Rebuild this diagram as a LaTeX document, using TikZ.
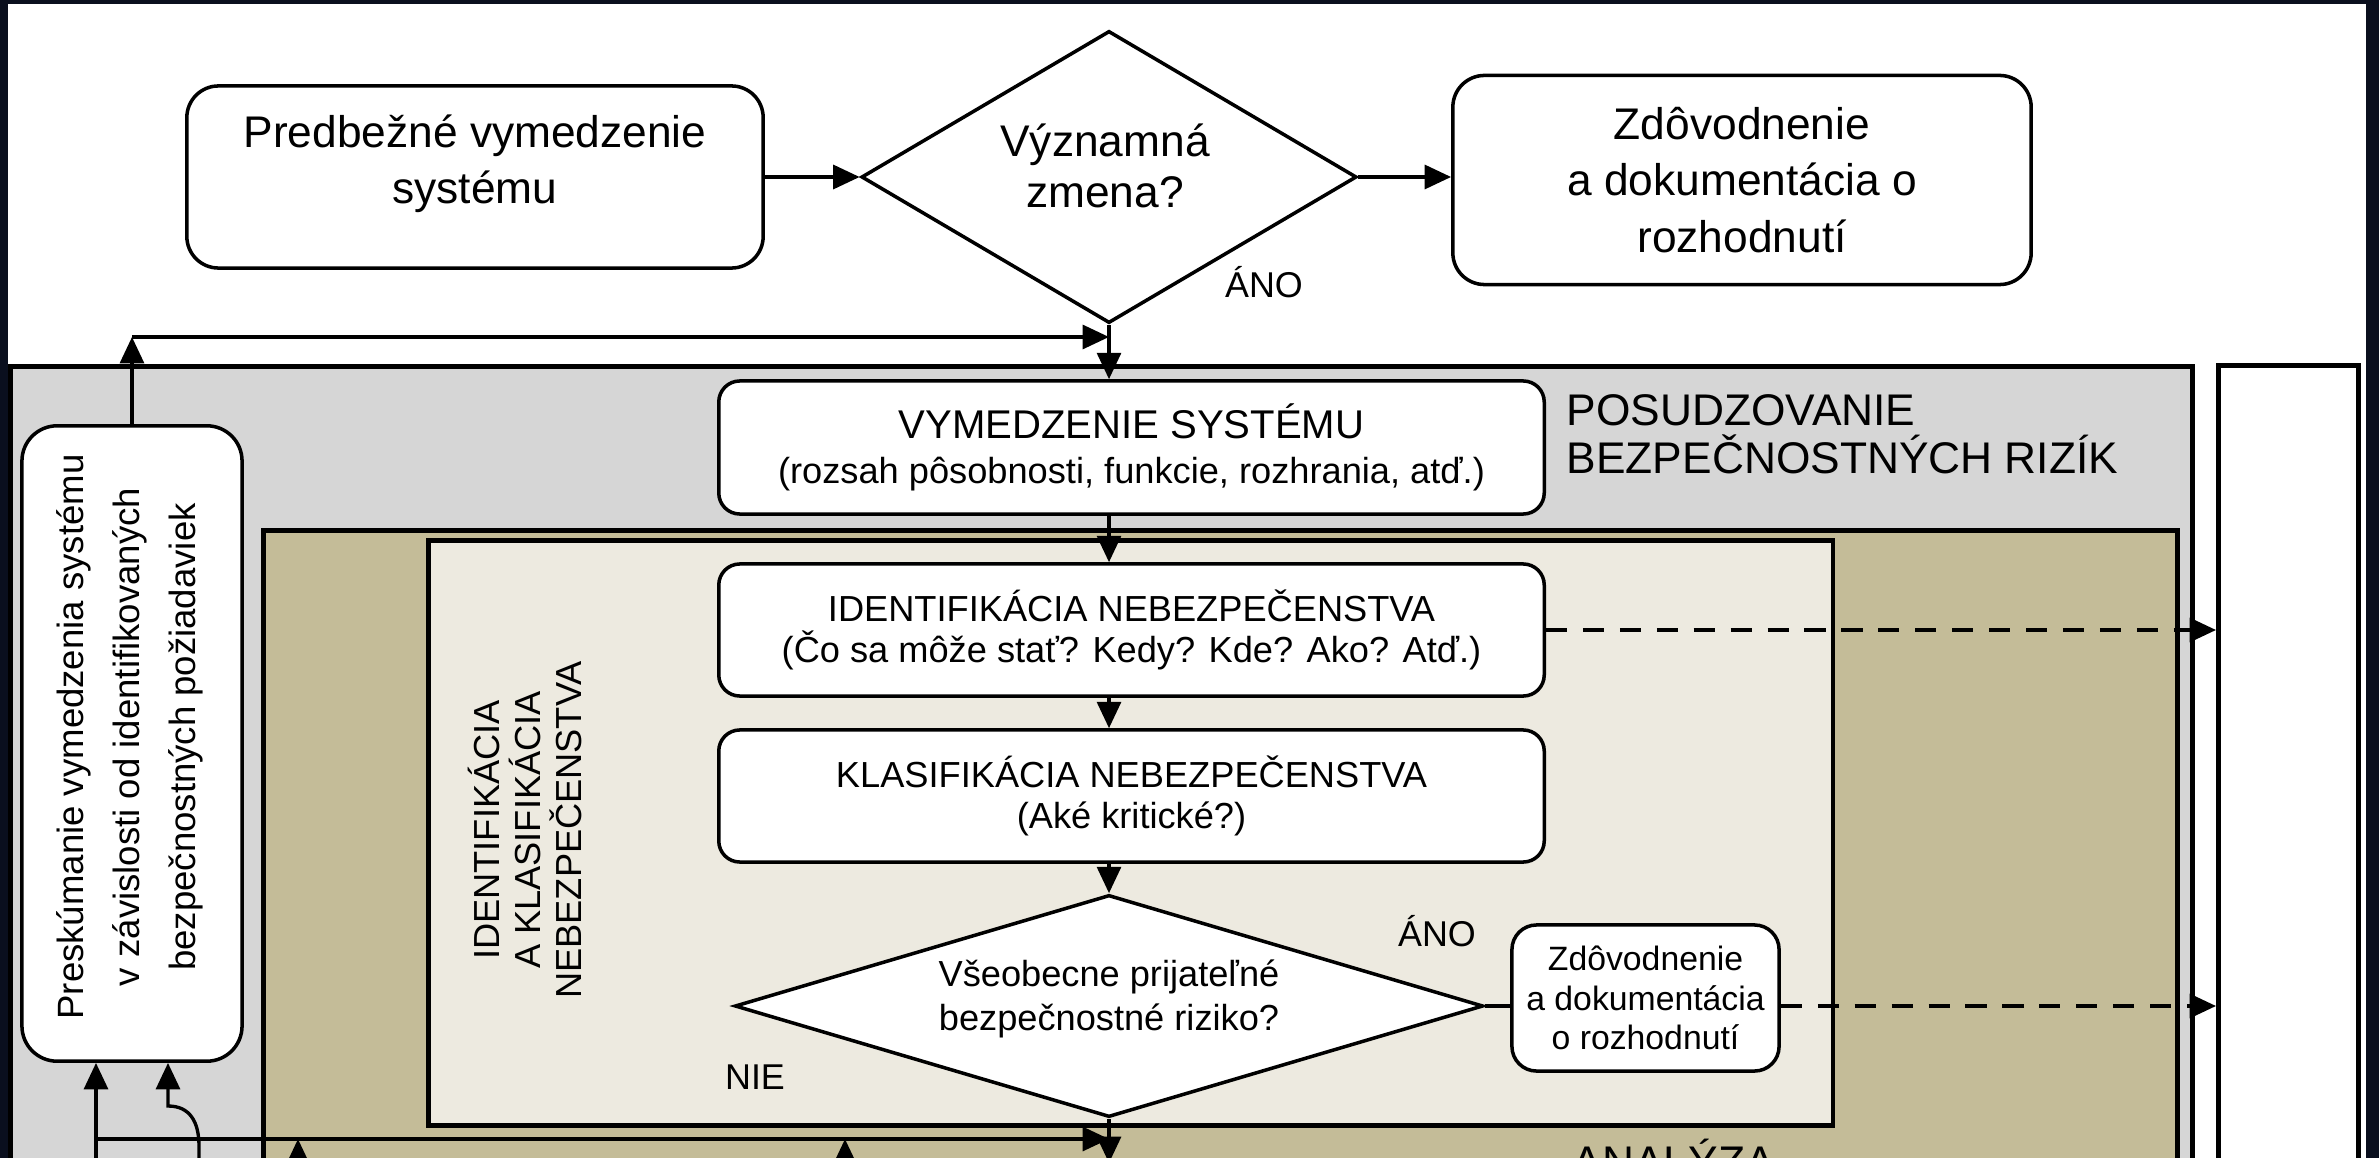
\documentclass[tikz,border=0pt]{standalone}
\usepackage{fontspec}
\setmainfont{Liberation Sans}
\usetikzlibrary{shapes.geometric,arrows.meta}
\definecolor{bgdark}{HTML}{0A0F1E}
\definecolor{graybox}{HTML}{D6D6D6}
\definecolor{tanbox}{HTML}{C4BC98}
\definecolor{lightbox}{HTML}{EDEAE0}
\begin{document}
\begin{tikzpicture}[x=0.01cm,y=-0.01cm,
 box/.style={draw=black, line width=1pt, fill=white, rounded corners=8pt, inner sep=0pt},
 region/.style={draw=black, line width=1.3pt, inner sep=0pt, anchor=north west},
 dmd/.style={diamond, draw=black, line width=1pt, fill=white, inner sep=0pt},
 arr/.style={line width=0.95pt, -{Triangle[length=7.5pt,width=6.8pt]}},
 con/.style={line width=0.95pt},
 dsh/.style={arr, dash pattern=on 6pt off 4.5pt},
 big/.style={font=\fontsize{12.6}{16}\selectfont},
 mid/.style={font=\fontsize{10.3}{11.7}\selectfont},
 lbl/.style={font=\fontsize{10.2}{12}\selectfont, inner sep=0pt},
]
\useasboundingbox (0,0) rectangle (2379,1158);
\clip (0,0) rectangle (2379,1158);
\fill[bgdark] (0,0) rectangle (2379,1158);
\fill[white] (8,4) rectangle (2366,1170);

% regions
\node[region, fill=graybox, minimum width=21.81cm, minimum height=8.5cm] (pos) at (8,364) {};
\node[region, fill=white, minimum width=1.40cm, minimum height=8.5cm] (rb) at (2216,363) {};
\node[region, fill=tanbox, minimum width=19.13cm, minimum height=7cm] (ana) at (261,528) {};
\node[region, fill=lightbox, minimum width=14.04cm, minimum height=5.85cm] (ik) at (426,538) {};

% top row
\node[box, rounded corners=9pt, minimum width=5.76cm, minimum height=1.82cm] (pre) at (475,177) {};
\node[big, align=center] (pret) at (475,164) {Predbežné vymedzenie\\systému};
\node[dmd, minimum width=4.95cm, minimum height=2.92cm] (d1) at (1109,177) {};
\node[align=center, font=\fontsize{12.6}{14.3}\selectfont] (d1t) at (1105,166) {Významná\\zmena?};
\node[box, rounded corners=9pt, minimum width=5.78cm, minimum height=2.09cm, align=center, big] (b2) at (1742,180) {Zdôvodnenie\\a dokumentácia o\\rozhodnutí};
\node[lbl] (ano1) at (1264,282) {ÁNO};

% left review box
\node[box, rounded corners=10pt, minimum width=2.2cm, minimum height=6.35cm] (pk) at (132,743.5) {};
\node[rotate=90, align=center, font=\fontsize{10.4}{16}\selectfont] (pkt) at (130,737) {Preskúmanie vymedzenia systému\\v závislosti od identifikovaných\\bezpečnostných požiadaviek};

% region labels
\node[align=left, anchor=north west, inner sep=0pt, font=\fontsize{12.6}{13.7}\selectfont] (post) at (1566,394) {POSUDZOVANIE\\BEZPEČNOSTNÝCH RIZÍK};
\node[rotate=90, align=center, mid] (ikt) at (525,830) {IDENTIFIKÁCIA\\A KLASIFIKÁCIA\\NEBEZPEČENSTVA};
\node[anchor=base west, inner sep=0pt, font=\fontsize{12.6}{14}\selectfont] (anat) at (1572,1177) {ANALÝZA};

% main flow boxes
\node[box, rounded corners=6pt, minimum width=8.25cm, minimum height=1.33cm, align=center, font=\fontsize{10.3}{12.8}\selectfont] (vym) at (1131.5,447.5) {{\fontsize{11.4}{12.8}\selectfont VYMEDZENIE SYSTÉMU}\\(rozsah pôsobnosti, funkcie, rozhrania, atď.)};
\node[box, rounded corners=6pt, minimum width=8.25cm, minimum height=1.32cm, align=center, mid] (idn) at (1131.5,630) {IDENTIFIKÁCIA NEBEZPEČENSTVA\\(Čo sa môže stať? Kedy? Kde? Ako? Atď.)};
\node[box, rounded corners=6pt, minimum width=8.25cm, minimum height=1.32cm, align=center, mid] (kls) at (1131.5,796) {KLASIFIKÁCIA NEBEZPEČENSTVA\\(Aké kritické?)};
\node[dmd, minimum width=7.48cm, minimum height=2.22cm] (d2) at (1109,1006) {};
\node[align=center, font=\fontsize{10.3}{12.5}\selectfont] (d2t) at (1109,999) {Všeobecne prijateľné\\bezpečnostné riziko?};
\node[box, rounded corners=7pt, minimum width=2.67cm, minimum height=1.46cm, align=center, font=\fontsize{9.6}{11.3}\selectfont] (sb) at (1645.5,998) {Zdôvodnenie\\a dokumentácia\\o rozhodnutí};
\node[lbl] (ano2) at (1437,931) {ÁNO};
\node[lbl] (nie) at (755,1077) {NIE};

% connectors
\draw[arr] (pre.east) -- (d1.west);
\draw[arr] (d1.east) -- (d1.east -| b2.west);
\draw[arr] (d1.south) -- (d1.south |- vym.north);
\coordinate (c1) at (132,337);
\draw[arr] (pk.north) -- (c1);
\draw[arr] (c1) -- (d1.south |- c1);
\draw[arr] (d1.south |- vym.south) -- (d1.south |- idn.north);
\draw[arr] (d1.south |- idn.south) -- (d1.south |- kls.north);
\draw[arr] (d1.south |- kls.south) -- (d2.north);
\draw[con] (d2.east) -- (d2.east -| sb.west);
\draw[dsh] (d2.east -| sb.east) -- (d2.east -| rb.west);
\draw[dsh] (idn.east) -- (idn.east -| rb.west);
\coordinate (e1) at (1109,1163);
\draw[arr] (d2.south) -- (e1);
\coordinate (l1) at (96,1175);
\coordinate (l2) at (96,1139);
\draw[arr] (l1) -- (l1 |- pk.south);
\draw[arr] (l2) -- (d2.south |- l2);
\coordinate (h0) at (199,1175);
\coordinate (h1) at (199,1146);
\coordinate (h2) at (168,1106);
\draw[arr] (h0) -- (h1) .. controls (199,1122) and (190,1106) .. (h2) -- (h2 |- pk.south);
\coordinate (u1) at (298,1175);
\coordinate (u2) at (845,1175);
\draw[arr] (u1) -- (u1 |- l2);
\draw[arr] (u2) -- (u2 |- l2);
\end{tikzpicture}
\end{document}
